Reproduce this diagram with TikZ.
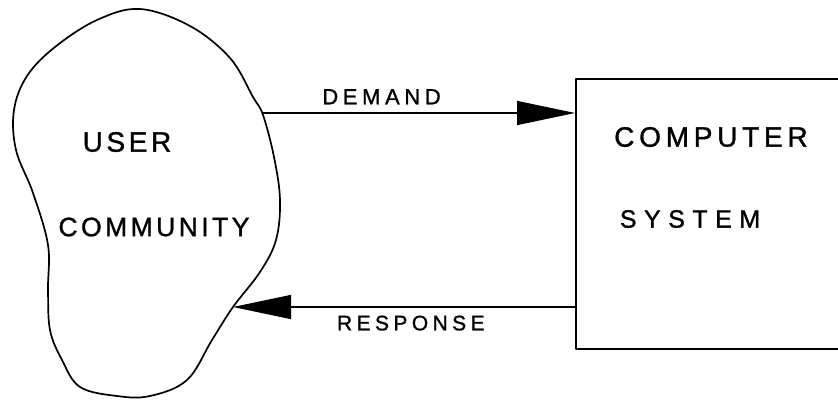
\documentclass[tikz,border=0pt]{standalone}
\usepackage{fontspec}
\usetikzlibrary{arrows.meta}
% letter-spaced capitals for the hand-lettered labels
\newfontfamily\handA[LetterSpace=13,FakeBold=1.2]{Liberation Sans}
\newfontfamily\handB[LetterSpace=17,FakeBold=1.2]{Liberation Sans}
\newfontfamily\handC[LetterSpace=21,FakeBold=1.2]{Liberation Sans}
\newfontfamily\handD[LetterSpace=30,FakeBold=1.2]{Liberation Sans}
\tikzset{
  outline/.style={line width=1.7pt, line join=round},
  flow/.style={line width=1.3pt, -{Triangle[length=58pt,width=24pt]}},
  label/.style={inner sep=0pt, text=black},
}
\begin{document}
\begin{tikzpicture}[x=1pt,y=-1pt]
  \useasboundingbox (0,0) rectangle (838,399);
  \clip (0,0) rectangle (838,399);

  % the user community, an irregular closed outline
  \draw[outline] plot[smooth cycle, tension=0.6] coordinates {
    (140,9) (190,26) (230,58) (253,97) (263,115)
    (274,157) (280,200) (276,240) (260,272) (233,307)
    (212,340) (187,380) (150,396) (117,396)
    (80,387) (62,360) (50,330) (48,290) (48,245)
    (33,193) (16,150) (14,110) (27,76) (55,47)
    (97,20)};
  \coordinate (demandout) at (263,113);
  \coordinate (responsein) at (233,307);

  % the computer system, running off the right edge
  \node[draw, outline, anchor=north west, minimum width=425pt,
        minimum height=270pt, inner sep=0pt] (system) at (575,78) {};

  % labels
  \node[label, font=\handA\fontsize{28}{30}\selectfont] (user) at (127,142) {USER};
  \node[label, font=\handA\fontsize{26.5}{30}\selectfont] (community) at (154,227) {COMMUNITY};
  \node[label, font=\handB\fontsize{28}{30}\selectfont] (computer) at (711,137) {COMPUTER};
  \node[label, font=\handD\fontsize{25}{30}\selectfont] (sys) at (690,219) {SYSTEM};

  % flows between the community and the system
  \draw[flow] (demandout) -- (system.west |- demandout)
    node[label, pos=0.38, above=8pt, font=\handC\fontsize{22}{26}\selectfont] (demand) {DEMAND};
  \draw[flow] (system.west |- responsein) -- (responsein)
    node[label, pos=0.48, below=8pt, font=\handC\fontsize{21}{26}\selectfont] (response) {RESPONSE};
\end{tikzpicture}
\end{document}
